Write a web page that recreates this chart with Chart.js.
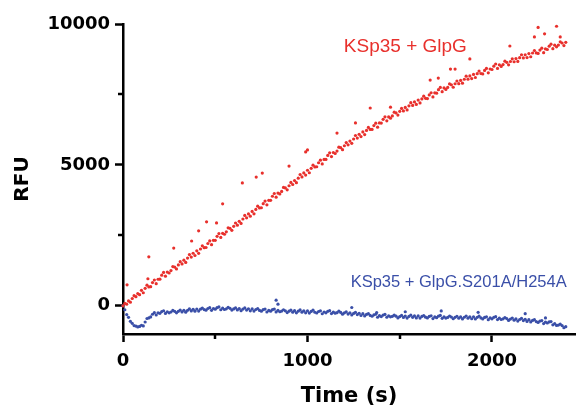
<!DOCTYPE html>
<html>
<head>
<meta charset="utf-8">
<script src="https://cdn.jsdelivr.net/npm/chart.js@4.4.1/dist/chart.umd.min.js"></script>
<style>
  html, body { margin: 0; padding: 0; background: #fff; }
  canvas { display: block; }
</style>
</head>
<body>
<canvas id="rfu" width="579" height="411"></canvas>
<script>
'use strict';

// sampling times (s), one reading every 10 s
const timeS = [
  0, 10, 20, 30, 40, 50, 60, 70, 80, 90,
  100, 110, 120, 130, 140, 150, 160, 170, 180, 190,
  200, 210, 220, 230, 240, 250, 260, 270, 280, 290,
  300, 310, 320, 330, 340, 350, 360, 370, 380, 390,
  400, 410, 420, 430, 440, 450, 460, 470, 480, 490,
  500, 510, 520, 530, 540, 550, 560, 570, 580, 590,
  600, 610, 620, 630, 640, 650, 660, 670, 680, 690,
  700, 710, 720, 730, 740, 750, 760, 770, 780, 790,
  800, 810, 820, 830, 840, 850, 860, 870, 880, 890,
  900, 910, 920, 930, 940, 950, 960, 970, 980, 990,
  1000, 1010, 1020, 1030, 1040, 1050, 1060, 1070, 1080, 1090,
  1100, 1110, 1120, 1130, 1140, 1150, 1160, 1170, 1180, 1190,
  1200, 1210, 1220, 1230, 1240, 1250, 1260, 1270, 1280, 1290,
  1300, 1310, 1320, 1330, 1340, 1350, 1360, 1370, 1380, 1390,
  1400, 1410, 1420, 1430, 1440, 1450, 1460, 1470, 1480, 1490,
  1500, 1510, 1520, 1530, 1540, 1550, 1560, 1570, 1580, 1590,
  1600, 1610, 1620, 1630, 1640, 1650, 1660, 1670, 1680, 1690,
  1700, 1710, 1720, 1730, 1740, 1750, 1760, 1770, 1780, 1790,
  1800, 1810, 1820, 1830, 1840, 1850, 1860, 1870, 1880, 1890,
  1900, 1910, 1920, 1930, 1940, 1950, 1960, 1970, 1980, 1990,
  2000, 2010, 2020, 2030, 2040, 2050, 2060, 2070, 2080, 2090,
  2100, 2110, 2120, 2130, 2140, 2150, 2160, 2170, 2180, 2190,
  2200, 2210, 2220, 2230, 2240, 2250, 2260, 2270, 2280, 2290,
  2300, 2310, 2320, 2330, 2340, 2350, 2360, 2370, 2380, 2390,
  2400
];

// KSp35 + GlpG
const glpgRFU = [
  0, 85, 60, 175, 130, 260, 360, 325, 435, 395,
  550, 463, 621, 734, 672, 680, 823, 916, 784, 942,
  945, 1087, 1184, 1051, 1198, 1165, 1252, 1394, 1376, 1308,
  1450, 1565, 1485, 1620, 1540, 1695, 1820, 1730, 1865, 1785,
  1950, 1861, 2017, 2128, 2064, 2070, 2211, 2302, 2168, 2324,
  2325, 2466, 2562, 2428, 2574, 2540, 2626, 2767, 2748, 2679,
  2820, 2938, 2861, 2999, 2922, 3080, 3208, 3121, 3259, 3182,
  3350, 3263, 3421, 3534, 3472, 3480, 3623, 3716, 3584, 3742,
  3745, 3888, 3986, 3854, 4002, 3970, 4058, 4201, 4184, 4117,
  4260, 4380, 4305, 4445, 4370, 4530, 4660, 4575, 4715, 4640,
  4810, 4722, 4879, 4991, 4928, 4935, 5077, 5169, 5036, 5193,
  5195, 5335, 5430, 5295, 5440, 5405, 5490, 5630, 5610, 5540,
  5680, 5794, 5713, 5847, 5766, 5920, 6044, 5953, 6087, 6006,
  6170, 6075, 6225, 6330, 6260, 6260, 6395, 6480, 6340, 6490,
  6485, 6618, 6706, 6564, 6702, 6660, 6738, 6871, 6844, 6767,
  6900, 7005, 6915, 7040, 6950, 7095, 7210, 7110, 7235, 7145,
  7300, 7198, 7341, 7439, 7362, 7355, 7483, 7561, 7414, 7557,
  7545, 7670, 7750, 7600, 7730, 7680, 7750, 7875, 7840, 7755,
  7880, 7978, 7881, 7999, 7902, 8040, 8148, 8041, 8159, 8062,
  8210, 8101, 8237, 8328, 8244, 8230, 8351, 8422, 8268, 8404,
  8385, 8505, 8580, 8425, 8550, 8495, 8560, 8680, 8640, 8550,
  8670, 8763, 8661, 8774, 8672, 8805, 8908, 8796, 8909, 8807,
  8950, 8838, 8971, 9059, 8972, 8955, 9073, 9141, 8984, 9117,
  9095, 9212, 9284, 9126, 9248, 9190, 9252, 9369, 9326, 9233,
  9350
];
// stray readings above the band
const glpgOutT = [22, 135, 140, 275, 372, 410, 453, 507, 540, 647, 722, 755, 900, 990, 1000,
  1160, 1260, 1340, 1450, 1665, 1709, 1775, 1800, 1880, 2097, 2230, 2250, 2285, 2350, 2370];
const glpgOutRFU = [745, 960, 1740, 2050, 2300, 2660, 2980, 2940, 3620, 4360, 4570, 4710, 4960, 5460, 5530,
  6130, 6490, 7020, 7050, 8010, 8080, 8400, 8400, 8760, 9220, 9540, 9880, 9650, 9920, 9540];

// KSp35 + GlpG.S201A/H254A
const mutantRFU = [
  0, -140, -310, -410, -550, -620, -700, -720, -750, -730,
  -690, -715, -575, -450, -430, -395, -300, -245, -325, -250,
  -265, -205, -175, -270, -210, -250, -220, -165, -195, -250,
  -195, -150, -215, -160, -225, -160, -110, -180, -125, -190,
  -115, -185, -120, -80, -135, -155, -95, -65, -160, -95,
  -120, -65, -40, -140, -85, -130, -105, -55, -90, -150,
  -110, -73, -146, -99, -172, -115, -73, -151, -104, -177,
  -110, -188, -131, -99, -162, -190, -138, -116, -219, -162,
  -190, -137, -114, -216, -163, -210, -187, -139, -176, -238,
  -190, -152, -224, -174, -248, -190, -146, -224, -176, -248,
  -180, -257, -199, -154, -228, -255, -202, -179, -281, -220,
  -250, -197, -174, -276, -223, -260, -242, -189, -236, -298,
  -250, -216, -292, -248, -324, -270, -231, -312, -268, -344,
  -280, -360, -305, -275, -340, -370, -320, -300, -405, -350,
  -380, -327, -304, -406, -353, -390, -372, -329, -366, -428,
  -380, -341, -412, -363, -434, -375, -331, -407, -358, -429,
  -360, -436, -377, -343, -404, -430, -376, -352, -453, -394,
  -420, -366, -342, -443, -394, -435, -411, -362, -398, -459,
  -410, -371, -442, -393, -464, -405, -361, -437, -388, -459,
  -390, -467, -409, -366, -428, -465, -412, -389, -491, -430,
  -460, -408, -386, -489, -437, -485, -463, -416, -454, -517,
  -470, -435, -510, -465, -540, -485, -445, -525, -480, -555,
  -490, -572, -519, -491, -558, -590, -542, -524, -631, -578,
  -610, -570, -560, -675, -635, -695, -685, -650, -700, -775,
  -740
];
const mutantOutT = [830, 840, 1240, 1375, 1530, 1725, 1925, 2180, 2290];
const mutantOutRFU = [200, 60, -60, -240, -210, -180, -230, -280, -430];

const xTicksMajor = [0, 1000, 2000];
const xTicksMinor = [500, 1500];
const yTicksMajor = [0, 5000, 10000];
const yTicksMinor = [2500, 7500];

const labelGlpG = 'KSp35 + GlpG';
const labelMutant = 'KSp35 + GlpG.S201A/H254A';

const RED = '#e8302c';
const BLUE = '#3a4fa8';
const AXIS_FONT = '"DejaVu Sans", sans-serif';

function toPoints(xs, ys) {
  return xs.map((t, i) => ({ x: t, y: ys[i] }));
}

// series labels, written in data units, plus the short minor ticks
const overlay = {
  id: 'overlay',
  afterDraw(chart) {
    const { ctx } = chart;
    const x = chart.scales.x;
    const y = chart.scales.y;
    ctx.save();
    ctx.strokeStyle = '#000';
    ctx.lineWidth = 2.5;
    xTicksMinor.forEach((v) => {
      const px = Math.round(x.getPixelForValue(v));
      ctx.beginPath();
      ctx.moveTo(px, y.bottom);
      ctx.lineTo(px, y.bottom + 5);
      ctx.stroke();
    });
    yTicksMinor.forEach((v) => {
      const py = Math.round(y.getPixelForValue(v));
      ctx.beginPath();
      ctx.moveTo(x.left, py);
      ctx.lineTo(x.left - 5, py);
      ctx.stroke();
    });

    ctx.textAlign = 'left';
    ctx.textBaseline = 'middle';
    ctx.font = '19px "Liberation Sans", Arial, sans-serif';
    ctx.fillStyle = RED;
    ctx.fillText(labelGlpG, x.getPixelForValue(1197), y.getPixelForValue(9180));
    ctx.font = '16.5px "Liberation Sans", Arial, sans-serif';
    ctx.fillStyle = BLUE;
    ctx.fillText(labelMutant, x.getPixelForValue(1234), y.getPixelForValue(820));
    ctx.restore();
  }
};

new Chart(document.getElementById('rfu').getContext('2d'), {
  type: 'scatter',
  data: {
    datasets: [
      {
        label: labelGlpG,
        data: toPoints(timeS, glpgRFU).concat(toPoints(glpgOutT, glpgOutRFU)),
        backgroundColor: RED,
        borderWidth: 0,
        pointRadius: 1.6
      },
      {
        label: labelMutant,
        data: toPoints(timeS, mutantRFU).concat(toPoints(mutantOutT, mutantOutRFU)),
        backgroundColor: BLUE,
        borderWidth: 0,
        pointRadius: 1.6
      }
    ]
  },
  options: {
    responsive: false,
    devicePixelRatio: 1,
    animation: false,
    clip: false,
    layout: { padding: { top: 24, right: 1, left: 0, bottom: 0 } },
    plugins: {
      legend: { display: false },
      tooltip: { enabled: false }
    },
    scales: {
      x: {
        type: 'linear',
        min: 0,
        max: 2450,
        afterFit: (scale) => { scale.height = 77; },
        border: { display: true, color: '#000', width: 2.5 },
        grid: {
          drawOnChartArea: false,
          drawTicks: true,
          tickLength: 8,
          tickWidth: 2.5,
          tickColor: '#000'
        },
        afterBuildTicks: (scale) => {
          scale.ticks = xTicksMajor.map((v) => ({ value: v }));
        },
        ticks: {
          color: '#000',
          padding: 9,
          maxRotation: 0,
          callback: (v) => String(v),
          font: { family: AXIS_FONT, size: 18, weight: 'bold' }
        },
        title: {
          display: true,
          text: 'Time (s)',
          color: '#000',
          padding: { top: 0, bottom: 2 },
          font: { family: AXIS_FONT, size: 21, weight: 'bold' }
        }
      },
      y: {
        type: 'linear',
        min: -1000,
        max: 10000,
        afterFit: (scale) => { scale.width = 123; },
        border: { display: true, color: '#000', width: 2.5 },
        grid: {
          drawOnChartArea: false,
          drawTicks: true,
          tickLength: 8,
          tickWidth: 2.5,
          tickColor: '#000'
        },
        afterBuildTicks: (scale) => {
          scale.ticks = yTicksMajor.map((v) => ({ value: v }));
        },
        ticks: {
          color: '#000',
          padding: 5,
          callback: (v) => String(v),
          font: { family: AXIS_FONT, size: 18, weight: 'bold' }
        },
        title: {
          display: true,
          text: 'RFU',
          color: '#000',
          padding: { top: 11, bottom: 0 },
          font: { family: AXIS_FONT, size: 20, weight: 'bold' }
        }
      }
    }
  },
  plugins: [overlay]
});
</script>
</body>
</html>
